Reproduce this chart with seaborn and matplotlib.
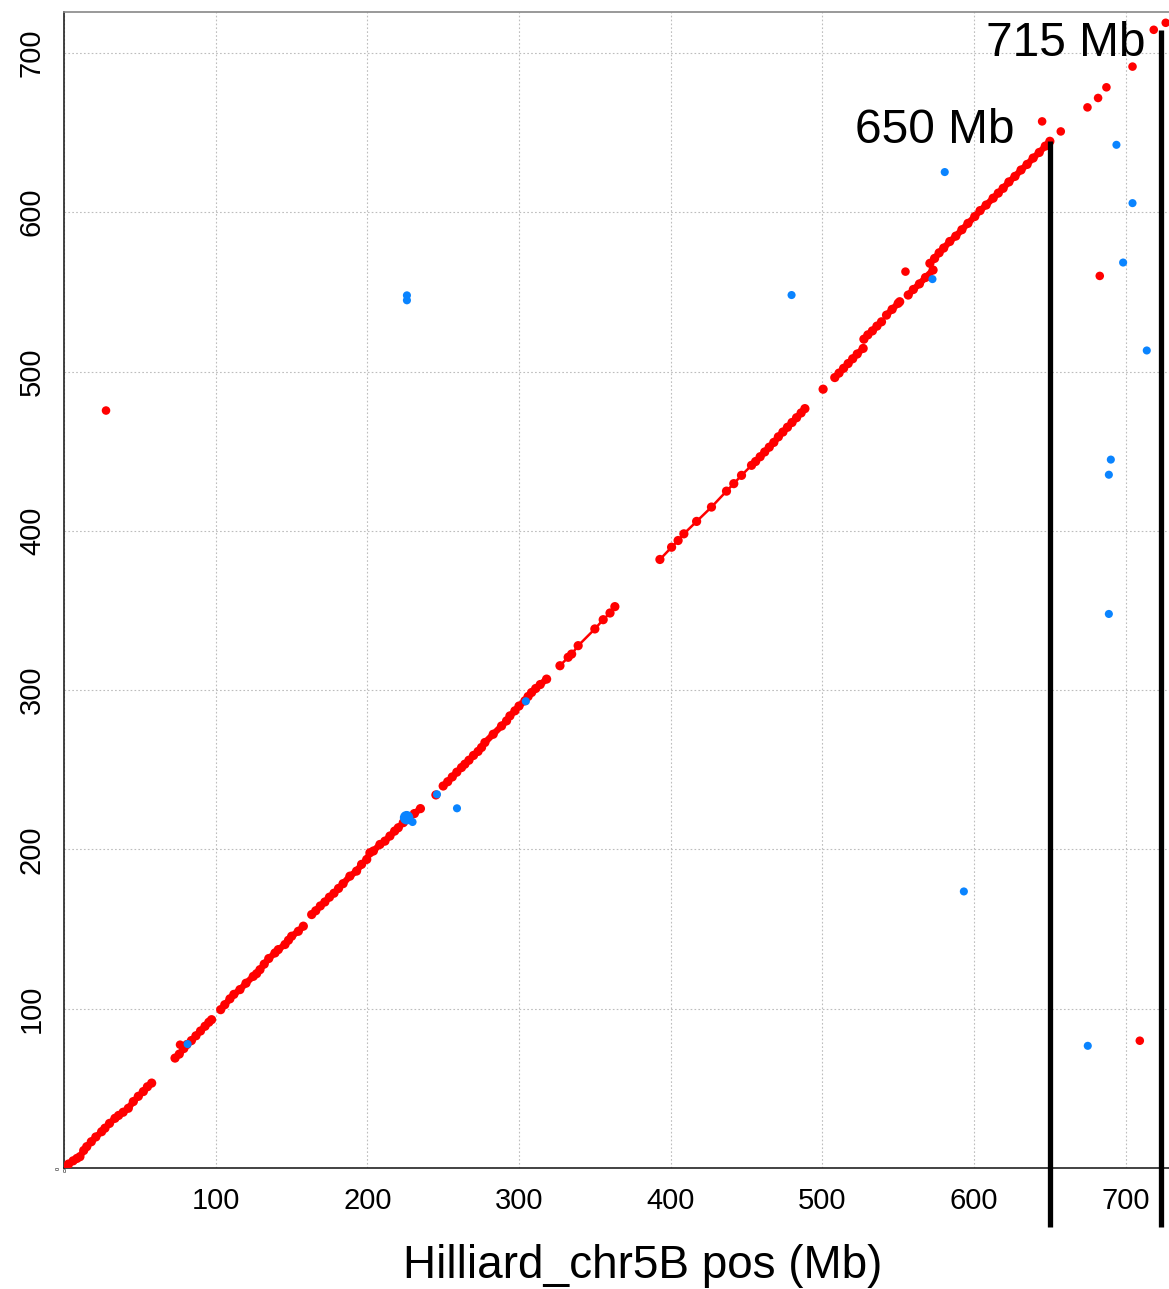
import matplotlib
matplotlib.use("Agg")
import matplotlib.pyplot as plt
import seaborn as sns
import pandas as pd

# ---------------- data (Mb) ----------------
# main collinear (red) diagonal, split into segments
diag_x = [0.2, 3, 6, 8.5, 10.5, 13, 15, 18, 21, 24.8, 27, 30, 33.6, 36, 39, 42.4, 45.7, 49, 52.3, 55, 57.8,
          73.2, 76, 79, 81, 84, 87, 90, 93, 95.5, 97.3,
          103.3, 106, 109.4, 112, 116, 120, 124.8, 127, 129.2, 132, 135, 139.1, 141.3, 145.7, 148, 150.1, 154.5, 157.8,
          163.3, 166, 169, 172, 175, 178, 181, 184, 188.5, 192.9, 196.2, 199.6, 201.7, 204, 208.3, 211.6, 214.9, 218,
          220.4, 223.7, 227, 231, 235,
          245.2,
          250, 253, 256, 259, 262.1, 264.3, 267, 270, 273, 275.3, 277.5, 283, 288.5, 291.8, 294, 297.3, 300, 303.9,
          306, 308.3, 311, 314, 318.2,
          327, 332.4, 334.7, 339, 350, 355.5, 360, 363.2,
          392.9, 400.6, 404.9, 408.7, 417.1, 426.9, 436.8, 441.6, 446.7, 453.3,
          456, 459, 462, 465, 468, 471, 474, 477, 480, 483, 486, 488.5,
          500.5,
          508.2, 511, 514, 517, 520, 523, 526.9,
          527.4, 530, 533, 536, 539,
          542.3, 546, 550, 551,
          556.6, 560, 564, 568, 573,
          570.9, 574, 577, 580, 584, 588, 592, 596, 600.5, 604, 608, 612.6, 616, 619.2, 623, 627, 631, 635, 639,
          643, 647, 650]
diag_y = [0, 2.5, 4.5, 6, 7.1, 11, 13.4, 16.5, 19.5, 22.8, 25, 28, 31.2, 33, 35, 37.5, 41.7, 45, 48, 51, 53.3,
          69, 71.5, 75, 77.5, 80, 83, 86, 89, 91.5, 93.1,
          99.4, 102.5, 106.2, 109, 112, 116, 120.3, 122, 124.5, 128, 131.5, 135, 137.1, 140.3, 143, 145.5, 148.6, 151.8,
          159.1, 161.5, 164.5, 167, 170, 172.5, 175.5, 178.5, 183.2, 186.4, 190.6, 193.7, 197.9, 199, 203.1, 205.2,
          208.4, 211.5, 213.6, 216.8, 219, 222.5, 225.6,
          234.2,
          239.8, 242.5, 245.5, 248.5, 251.4, 253.5, 256, 259, 261.5, 264, 267.1, 272.3, 277.5, 280.7, 283.8, 287, 290,
          293.3, 296, 298.5, 301, 303.5, 306.9,
          315.3, 320.6, 322.6, 327.9, 338.4, 344.2, 348.4, 352.4,
          382, 389.7, 393.9, 398.1, 405.9, 414.9, 424.9, 429.6, 434.8, 441.1,
          443.5, 446.5, 449.5, 452.5, 455.5, 459, 462, 465, 468, 471, 474, 476.7,
          488.9,
          496.2, 499, 502, 505, 508, 511, 514.5,
          520.3, 523, 525.5, 528.5, 531.2,
          535.4, 539, 542.8, 543.8,
          548, 551.5, 555, 559, 563.7,
          567.9, 571, 574.5, 577.5, 581.6, 585, 589, 593, 597.3, 601, 604.5, 608.8, 612, 615, 619, 622.5, 626.5, 630,
          634, 637.5, 641.5, 644.5]
diag_seg = ([1] * 21 + [2] * 10 + [3] * 18 + [4] * 23 + [5] + [6] * 23 + [7] * 8 + [8] * 10 + [9] * 12 + [10]
            + [11] * 7 + [12] * 5 + [13] * 4 + [14] * 5 + [15] * 22)
sparse_segs = [7, 8]

# scattered red (same-strand) hits
red_x = [27.7, 76.5, 554.8, 644.9, 657.2, 674.8, 681.8, 687.3, 704.5, 718.5, 726.4, 682.9, 709.3]
red_y = [475.5, 77.4, 562.7, 657, 650.7, 665.8, 671.7, 678.4, 691.4, 714.5, 718.9, 560, 79.9]

# scattered blue (inverted) hits
blue_x = [81.5, 226.1, 226.1, 225.9, 229.8, 245.9, 259.1, 304.5, 479.7, 572.6, 580.7, 593.3, 675, 688.9,
          688.9, 690.2, 693.9, 698.3, 704.5, 713.9]
blue_y = [77.8, 547.8, 544.7, 219.9, 217.2, 234.6, 225.8, 293, 548, 558, 625.2, 173.6, 76.7, 347.8,
          435.2, 444.7, 642.3, 568.4, 605.7, 513.2]
blue_big = [False, False, False, True, False, False, False, False, False, False, False, False, False, False,
            False, False, False, False, False, False]

marker_lines = [650, 723]
marker_tops = [644.5, 714.4]
marker_labels = ["650 Mb", "715 Mb"]
ticks = [0, 100, 200, 300, 400, 500, 600, 700]
xlabel = "Hilliard_chr5B pos (Mb)"

# ---------------- plot ----------------
sns.set_theme(style="white")
plt.rcParams['font.family'] = ['Liberation Sans', 'DejaVu Sans']

W, H = 1169, 1289
fig = plt.figure(figsize=(W / 100, H / 100), dpi=100)
ax = fig.add_axes([64 / W, (H - 1168) / H, (W - 64) / W, (1168 - 12) / H])

diag = pd.DataFrame({"x": diag_x, "y": diag_y, "seg": diag_seg})
diag["sparse"] = diag["seg"].isin(sparse_segs)
red = pd.DataFrame({"x": red_x, "y": red_y})
blue = pd.DataFrame({"x": blue_x, "y": blue_y, "big": blue_big})

sns.lineplot(data=diag[~diag["sparse"]], x="x", y="y", units="seg", estimator=None, sort=False,
             color="#ff0000", lw=4.6, ax=ax, legend=False, zorder=3)
sns.lineplot(data=diag[diag["sparse"]], x="x", y="y", units="seg", estimator=None, sort=False,
             color="#ff0000", lw=1.8, ax=ax, legend=False, zorder=3)
sns.scatterplot(data=diag, x="x", y="y", color="#ff0000", s=44, edgecolor="none", ax=ax, zorder=4)
sns.scatterplot(data=red, x="x", y="y", color="#ff0000", s=38, edgecolor="none", ax=ax, zorder=4)
sns.scatterplot(data=blue[~blue["big"]], x="x", y="y", color="#0a84ff", s=34, edgecolor="none", ax=ax, zorder=5)
sns.scatterplot(data=blue[blue["big"]], x="x", y="y", color="#0a84ff", s=95, edgecolor="none", ax=ax, zorder=5)

ax.set_xlim(0, (W - 64) / 1.5167)
ax.set_ylim(0, (1168 - 12) / 1.593)
ax.set_xticks(ticks)
ax.set_yticks(ticks)
ax.set_xticklabels([str(t) for t in ticks], fontsize=21, color="black")
ax.set_yticklabels([str(t) for t in ticks], fontsize=21, rotation=90, va="center", color="black")
ax.get_xticklabels()[0].set_fontsize(4)
ax.get_yticklabels()[0].set_fontsize(4)
ax.tick_params(axis="x", length=0, pad=14)
ax.tick_params(axis="y", length=0, pad=13)
ax.xaxis.get_major_ticks()[0].set_pad(1)
ax.yaxis.get_major_ticks()[0].set_pad(2)
ax.set_xlabel("")
ax.set_ylabel("")
ax.grid(True, color="#bdbdbd", linestyle=(0, (1.5, 2)), linewidth=0.8)
ax.set_axisbelow(True)

for side in ["left", "bottom"]:
    ax.spines[side].set_color("#222222")
    ax.spines[side].set_linewidth(1.2)
ax.spines["top"].set_color("#888888")
ax.spines["top"].set_linewidth(1.2)
ax.spines["right"].set_visible(False)

for xv, top in zip(marker_lines, marker_tops):
    ax.plot([xv, xv], [top, -37], color="black", lw=3.8, clip_on=False, zorder=6, solid_capstyle="butt")

ax.text(574.3, 651, marker_labels[0], fontsize=34.5, ha="center", va="center", color="black", zorder=7)
ax.text(660.7, 706.0, marker_labels[1], fontsize=34.5, ha="center", va="center", color="black", zorder=7)

fig.text(643 / W, 1 - 1266 / H, xlabel, fontsize=33, ha="center", va="center", color="black")

fig.savefig("out.png", dpi=100, facecolor="white")
